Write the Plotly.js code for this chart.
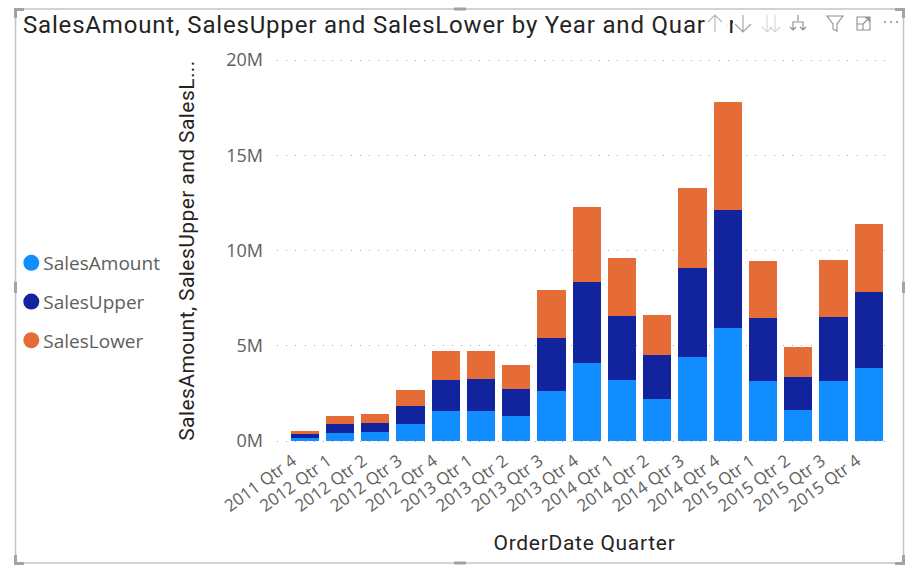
<!DOCTYPE html>
<html><head><meta charset="utf-8">
<script src="https://cdn.plot.ly/plotly-3.0.1.min.js"></script>
<style>html,body{margin:0;padding:0;background:#fff;overflow:hidden}#c{width:917px;height:576px}#o{position:absolute;left:0;top:0;pointer-events:none}
.gtitle{letter-spacing:.82px}.ytitle{letter-spacing:.42px}.xtitle{letter-spacing:.7px}</style>
</head><body>
<div id="c"></div>
<svg id="o" width="917" height="576" viewBox="0 0 917 576" fill="none">
<rect x="15.5" y="9" width="888" height="554" stroke="#c4c4c4" stroke-width="1.5"/>
<g fill="#a3a3a3" stroke="none">
<path d="M14 8h10v3h-7v7h-3z"/><path d="M895 8h10v10h-3v-7h-7z"/><path d="M14 555h3v7h7v3h-10z"/><path d="M902 555h3v10h-10v-3h7z"/>
<rect x="454" y="7.5" width="12" height="3"/><rect x="454" y="561.5" width="12" height="3"/><rect x="14" y="282" width="3" height="11"/><rect x="902" y="282" width="3" height="11"/>
</g>
<rect x="706" y="12" width="21" height="24" fill="#fff"/>
<rect x="733" y="12" width="168" height="24" fill="#fff"/>
<g stroke="#b5b5b5" stroke-width="1.1">
<path d="M715 32V15M708 22l7-7 7 7"/>
<path stroke="#a0a0a0" d="M743 15v17M735 24l8 8 8-8"/>
<path stroke="#d5d5d5" d="M767 15v17M762 27l5 5 5-5M775 15v17M770 27l5 5 5-5"/>
<path stroke="#8c8c8c" d="M798 15v6M793 30v-8h10v8M790 27l3 3 3-3M800 27l3 3 3-3"/>
<path stroke="#909090" d="M827 16h16l-6 8v7l-4 -2v-5z"/>
<path stroke="#909090" d="M857 17h13v13h-13zM857 24h6v6M863 24l6-6M865 18h4v4"/>
</g>
<g fill="#8c8c8c" stroke="none"><circle cx="885" cy="22" r="1"/><circle cx="891" cy="22" r="1"/><circle cx="897" cy="22" r="1"/></g>
</svg>
<script>
const categories = ["2011 Qtr 4","2012 Qtr 1","2012 Qtr 2","2012 Qtr 3","2012 Qtr 4","2013 Qtr 1","2013 Qtr 2","2013 Qtr 3","2013 Qtr 4","2014 Qtr 1","2014 Qtr 2","2014 Qtr 3","2014 Qtr 4","2015 Qtr 1","2015 Qtr 2","2015 Qtr 3","2015 Qtr 4"];
const salesAmount = [0.175,0.42,0.47,0.89,1.56,1.58,1.33,2.64,4.09,3.20,2.20,4.42,5.91,3.15,1.64,3.16,3.81];
const salesUpper  = [0.175,0.47,0.47,0.95,1.65,1.66,1.38,2.75,4.28,3.36,2.29,4.65,6.24,3.30,1.73,3.34,4.00];
const salesLower  = [0.16,0.40,0.46,0.84,1.49,1.49,1.26,2.52,3.90,3.04,2.10,4.21,5.63,2.99,1.56,3.02,3.60];
const seriesNames = ["SalesAmount","SalesUpper","SalesLower"];
const seriesColors = ["#118DFF","#12239E","#E66C37"];
const seriesValues = [salesAmount,salesUpper,salesLower];
const titleText = "SalesAmount, SalesUpper and SalesLower by Year and Quarter";
const yTitle = "SalesAmount, SalesUpper and SalesL...";
const xTitle = "OrderDate Quarter";
const yTickVals = [0,5,10,15,20];
const yTickText = ["0M","5M","10M","15M","20M"];

const W=917,H=576,L=276.7,R=891.7,T=58,B=443;
const bars = seriesNames.map((n,i)=>({type:"bar",x:categories,y:seriesValues[i],name:n,showlegend:false,marker:{color:seriesColors[i]}}));
const keys = seriesNames.map((n,i)=>({type:"scatter",mode:"markers",x:[categories[0]],y:[null],name:n,legendgroup:n,showlegend:true,marker:{color:seriesColors[i],size:16,symbol:"circle"}}));
const layout = {
  width:W,height:H,paper_bgcolor:"#fff",plot_bgcolor:"#fff",
  margin:{l:L,r:W-R,t:T,b:H-B,pad:0,autoexpand:false},
  barmode:"stack",bargap:0.2,showlegend:true,hovermode:false,
  title:{text:titleText,x:23/W,xanchor:"left",xref:"container",y:1-25/H,yref:"container",yanchor:"middle",automargin:false,font:{family:"Roboto",size:24,color:"#252423"}},
  legend:{x:(3-L)/(R-L),xref:"paper",xanchor:"left",y:(B-244)/(B-T),yanchor:"top",traceorder:"grouped",tracegroupgap:11,itemsizing:"trace",bgcolor:"rgba(0,0,0,0)",borderwidth:0,font:{family:"Open Sans",size:19,color:"#605E5C"}},
  xaxis:{type:"category",categoryorder:"array",categoryarray:categories,range:[-0.783,16.658],fixedrange:true,showgrid:false,zeroline:false,showline:false,ticks:"",tickangle:-36,automargin:false,ticklabelstandoff:4,ticklabelshift:-12,tickfont:{family:"Open Sans",size:17,color:"#605E5C"},
    title:{text:xTitle,standoff:19,font:{family:"Roboto",size:21,color:"#252423"}}},
  yaxis:{range:[-0.105,20.105],fixedrange:true,tickvals:yTickVals,ticktext:yTickText,showgrid:true,gridcolor:"#ABA9A7",griddash:"1px,8.2px",gridwidth:1,zeroline:false,showline:false,ticks:"",ticklen:0,automargin:false,ticklabelstandoff:13,tickfont:{family:"Open Sans",size:18,color:"#605E5C"},
    title:{text:yTitle,standoff:25,font:{family:"Roboto",size:21,color:"#252423"}}}
};
Plotly.newPlot("c",bars.concat(keys),layout,{displayModeBar:false,staticPlot:true}).then(()=>{
  document.querySelectorAll("#c .legendsymbols").forEach(g=>g.setAttribute("transform","translate(8,0)"));
});
</script>
</body></html>
